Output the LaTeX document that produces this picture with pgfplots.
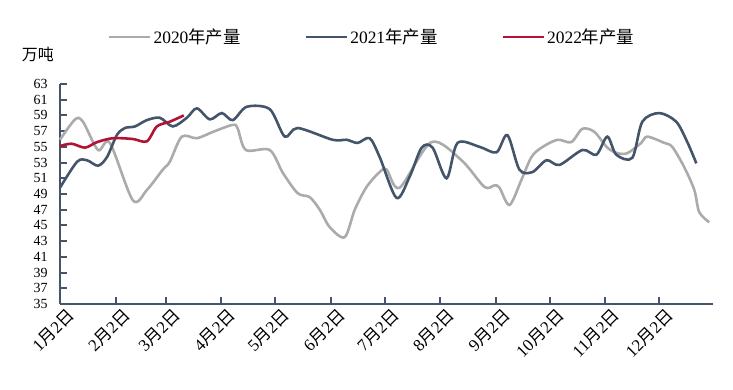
\documentclass[border=0pt]{standalone}
\usepackage{pgfplots}
\pgfplotsset{compat=1.18}
\usepackage{fontspec}
\setmainfont{Liberation Serif}
\newfontfamily\cjk{Noto Sans CJK SC}
\definecolor{g20}{RGB}{171,171,171}
\definecolor{b21}{RGB}{68,84,106}
\definecolor{r22}{RGB}{178,18,52}
\newcommand\md[1]{#1{\cjk 月}2{\cjk 日}}
\begin{document}
\begin{tikzpicture}
\useasboundingbox (-60bp,-86bp) rectangle (673bp,304bp);
\begin{axis}[
  at={(0,0)}, anchor=south west,
  scale only axis, width=653bp, height=220bp,
  xmin=0, xmax=364, ymin=35, ymax=63,
  axis x line=bottom, axis y line=left,
  axis line style={-, line width=2.5bp, color=b21},
  every tick/.style={line width=2bp, color=b21},
  tick align=inside, major tick length=7bp,
  ytick={35,37,...,63},
  xtick={0,31,59,90,120,151,181,212,243,273,304,334},
  xticklabels={\md{1},\md{2},\md{3},\md{4},\md{5},\md{6},\md{7},\md{8},\md{9},\md{10},\md{11},\md{12}},
  /pgf/number format/assume math mode=true,
  yticklabel style={font=\fontsize{14}{14}\selectfont, xshift=-9bp},
  xticklabel style={font=\fontsize{17}{17}\selectfont, rotate=45, anchor=east, yshift=-14bp, xshift=3bp, inner sep=1bp},
  ylabel={\cjk 万吨},
  ylabel style={rotate=-90, at={(axis description cs:-0.034,1.132)}, anchor=center, font=\fontsize{16}{16}\selectfont},
  legend columns=3,
  legend style={draw=none, fill=none, at={(axis description cs:0.478,1)}, anchor=center, yshift=47bp,
    font=\fontsize{17.5}{18}\selectfont,
    /tikz/every even column/.append style={column sep=62bp}},
  legend image code/.code={\draw[#1] (0bp,0bp) -- (41bp,0bp);},
  clip=false,
]
\addplot[g20, line width=2.6bp, smooth, tension=0.5] coordinates {
(0,55.9) (8.4,58.5) (12.8,58.2) (21.2,54.6) (27.8,55.5) (40.6,48.2) (48.4,49.5)
(57.3,52.1) (61.2,53.1) (67.9,56.3) (76.3,56.1) (85.2,56.9) (96.3,57.8) (99.1,57.3)
(103.6,54.6) (116.9,54.6) (124.2,51.7) (132.5,49.1) (139.2,48.6) (144.8,47.0)
(150.3,44.8) (158.7,43.5) (164.3,47.0) (170.9,49.9) (178.2,51.8) (182.1,52.1)
(189.3,49.8) (207,55.6) (223.8,53.3) (236.6,49.9) (242.2,50.1) (245,49.8)
(250.6,47.6) (257.2,50.8) (262.8,53.7) (268.4,54.9) (277.3,55.9) (285,55.6)
(291.2,57.3) (297.9,56.9) (305.1,54.9) (310.7,54.2) (316.3,54.2) (324,55.5)
(327.4,56.3) (336.9,55.5) (341.3,55.0) (348,52.4) (353.6,49.5) (356.3,46.7) (361.9,45.4)
};
\addlegendentry{2020{\cjk 年产量}}
\addplot[b21, line width=2.6bp, smooth, tension=0.5] coordinates {
(0,49.8) (9.5,53.1) (15,53.3) (21.2,52.6) (26.2,53.7) (31.7,56.5) (36.2,57.4)
(41.8,57.6) (48.4,58.4) (55.7,58.7) (62.9,57.6) (70.7,58.7) (76.3,59.9) (83.5,58.5)
(90.2,59.3) (96.3,58.4) (104.1,60.1) (116.9,59.8) (125.3,56.3) (132.5,57.4)
(152,55.9) (159.8,55.9) (165.9,55.5) (172.6,56.1) (178.2,53.7) (187.6,48.5)
(194.9,51.2) (201.6,54.9) (207.7,54.9) (215.5,51.0) (221.6,55.5) (233.9,55.0)
(243.3,54.3) (249.4,56.5) (256.1,52.1) (263.4,51.8) (271.2,53.3) (278.4,52.7)
(291.2,54.6) (299,54.0) (305.1,56.3) (310.1,54.0) (319,53.6) (324.6,58.2)
(334,59.3) (343.5,58.2) (349.7,55.6) (354.7,52.9)
};
\addlegendentry{2021{\cjk 年产量}}
\addplot[r22, line width=2.6bp, smooth, tension=0.5] coordinates {
(0,55.1) (6.5,55.4) (13.9,54.9) (20.6,55.6) (29.5,56.1) (40.6,56.0) (48.4,55.7)
(54,57.6) (61.2,58.2) (69,59.0)
};
\addlegendentry{2022{\cjk 年产量}}
\end{axis}
\end{tikzpicture}
\end{document}
